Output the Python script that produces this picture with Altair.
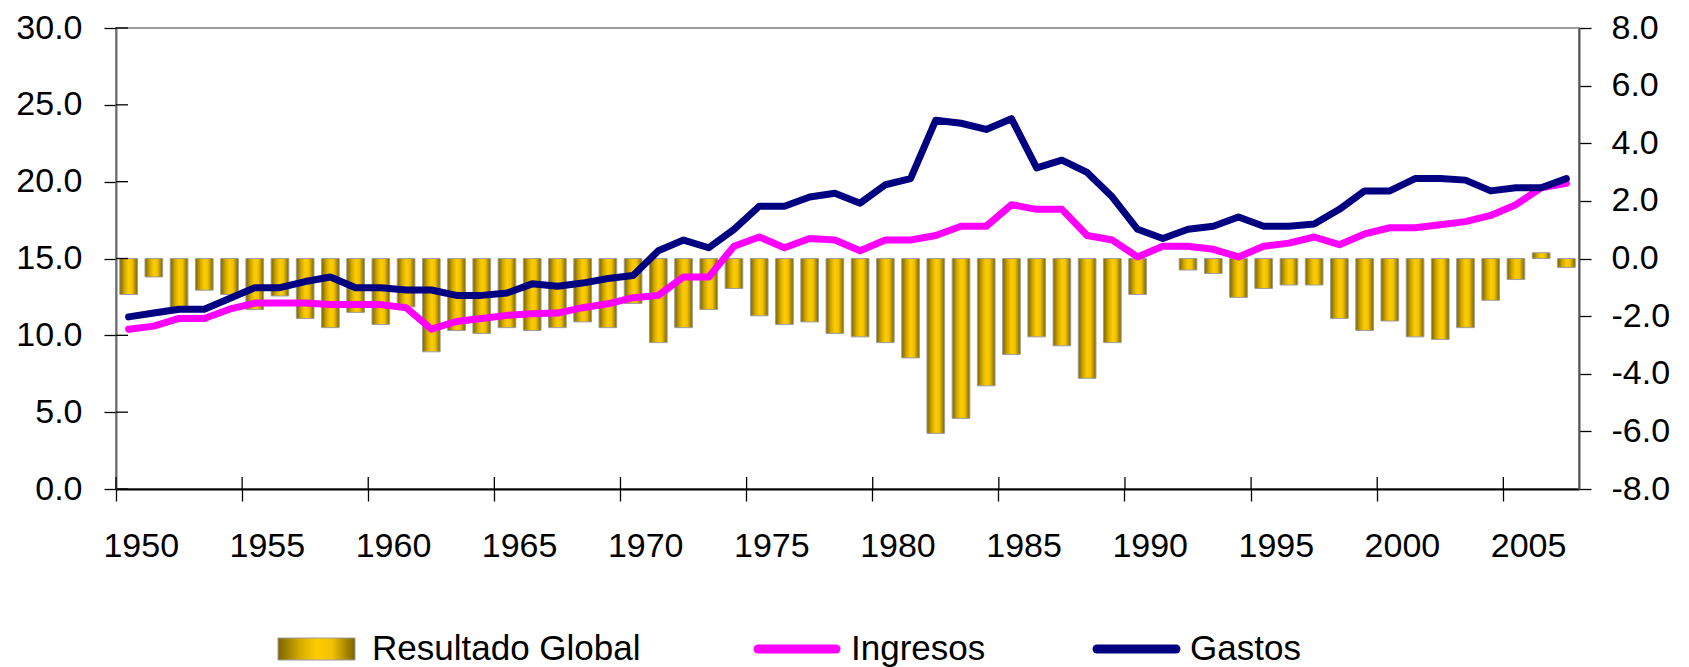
import altair as alt
import pandas as pd

# ---------------- data ----------------
years = list(range(1950, 2008))

resultado = [
    -1.25, -0.64, -1.80, -1.10, -1.25, -1.77, -1.30, -2.08, -2.40, -1.87,
    -2.29, -1.68, -3.24, -2.50, -2.60, -2.40, -2.50, -2.40, -2.20, -2.40,
    -1.56, -2.92, -2.40, -1.77, -1.04, -1.99, -2.29, -2.20, -2.60, -2.72,
    -2.92, -3.45, -6.07, -5.55, -4.42, -3.33, -2.72, -3.03, -4.16, -2.92,
    -1.25, None, -0.40, -0.52, -1.35, -1.04, -0.92, -0.92, -2.08, -2.50,
    -2.17, -2.72, -2.81, -2.40, -1.45, -0.73, 0.20, -0.31,
]

ingresos = [
    10.4, 10.6, 11.1, 11.1, 11.7, 12.1, 12.1, 12.1, 12.0, 12.0,
    12.0, 11.8, 10.4, 10.9, 11.1, 11.3, 11.4, 11.45, 11.8, 12.05,
    12.45, 12.6, 13.8, 13.8, 15.8, 16.4, 15.7, 16.3, 16.2, 15.5,
    16.2, 16.2, 16.5, 17.1, 17.1, 18.5, 18.2, 18.2, 16.5, 16.2,
    15.1, 15.8, 15.8, 15.6, 15.1, 15.8, 16.0, 16.4, 15.9, 16.6,
    17.0, 17.0, 17.2, 17.4, 17.8, 18.5, 19.6, 19.9,
]

gastos = [
    11.2, 11.45, 11.7, 11.7, 12.4, 13.1, 13.1, 13.5, 13.8, 13.1,
    13.1, 12.95, 12.95, 12.6, 12.6, 12.75, 13.35, 13.2, 13.4, 13.7,
    13.9, 15.5, 16.2, 15.7, 16.9, 18.4, 18.4, 19.0, 19.25, 18.6,
    19.8, 20.2, 24.0, 23.8, 23.4, 24.1, 20.9, 21.4, 20.6, 19.0,
    16.9, 16.3, 16.9, 17.1, 17.7, 17.1, 17.1, 17.25, 18.2, 19.4,
    19.4, 20.2, 20.2, 20.1, 19.4, 19.6, 19.6, 20.2,
]

left_ticks = [0, 5, 10, 15, 20, 25, 30]
right_ticks = [-8, -6, -4, -2, 0, 2, 4, 6, 8]
year_ticks = list(range(1950, 2006, 5))

bar_name = "Resultado Global"
series_names = ["Ingresos", "Gastos"]
series_colors = ["#FF00FF", "#000080"]

# ---------------- layout ----------------
W, H = 1463, 461
STEP = W / len(years)
FONT = "Liberation Sans"
LABEL_SIZE = 34

df = pd.DataFrame({"year": years, "Resultado": resultado,
                   "Ingresos": ingresos, "Gastos": gastos})

gold = alt.LinearGradient(
    gradient="linear",
    stops=[
        alt.GradientStop(color="#7A6400", offset=0),
        alt.GradientStop(color="#D4AA00", offset=0.28),
        alt.GradientStop(color="#FFCC00", offset=0.5),
        alt.GradientStop(color="#F2C200", offset=0.7),
        alt.GradientStop(color="#7A6400", offset=1),
    ],
    x1=0, x2=1, y1=0, y2=0,
)

x_axis = alt.Axis(
    values=year_ticks, bandPosition=0, labelOffset=STEP / 2, labelAngle=0,
    labelFont=FONT, labelFontSize=LABEL_SIZE, labelColor="black",
    labelPadding=28, labelOverlap=False, labelBound=False, labelFlush=False,
    tickSize=12, tickColor="black", tickWidth=1.3,
    domainColor="black", domainWidth=2, grid=False, title=None,
)
x_scale = alt.Scale(paddingInner=0, paddingOuter=0)
x_enc = alt.X("year:O", scale=x_scale, axis=x_axis, title=None)

HYPHEN = "replace(format(datum.value, '.1f'), '\u2212', '-')"

bars = alt.Chart(df).mark_bar(
    fill=gold, stroke="#9C9C9C", strokeWidth=1,
    width=alt.RelativeBandSize(0.7),
).encode(
    x=x_enc,
    y=alt.Y("Resultado:Q",
            scale=alt.Scale(domain=[-8, 8], nice=False, zero=False),
            axis=alt.Axis(orient="right", values=right_ticks, labelExpr=HYPHEN,
                          labelFont=FONT, labelFontSize=LABEL_SIZE,
                          labelColor="black", labelPadding=20,
                          tickSize=12, tickColor="black", tickWidth=1.3,
                          domainColor="#555555", domainWidth=2,
                          grid=False, title=None)),
)

lines = alt.Chart(df).transform_fold(
    series_names, as_=["serie", "valor"]
).mark_line(strokeWidth=7, strokeJoin="round", strokeCap="round").encode(
    x=x_enc,
    y=alt.Y("valor:Q",
            scale=alt.Scale(domain=[0, 30], nice=False),
            axis=alt.Axis(orient="left", values=left_ticks, format=".1f",
                          labelFont=FONT, labelFontSize=LABEL_SIZE,
                          labelColor="black", labelPadding=22,
                          tickSize=12, tickColor="black", tickWidth=1.3,
                          domainColor="#6E6E6E", domainWidth=2,
                          grid=False, title=None)),
    stroke=alt.Stroke("serie:N",
                      scale=alt.Scale(domain=series_names, range=series_colors),
                      legend=None),
)

# inner halves of the crossing tick marks
x_inner = alt.Chart(pd.DataFrame({"year": year_ticks})).mark_rule(
    color="black", strokeWidth=1.3
).encode(
    x=alt.X("year:O", bandPosition=0, scale=x_scale, axis=x_axis, title=None),
    y=alt.value(H - 12), y2=alt.value(H),
)

y_inner = alt.Chart(pd.DataFrame({"v": left_ticks})).mark_rule(
    color="black", strokeWidth=1.3
).encode(
    y=alt.Y("v:Q", scale=alt.Scale(domain=[0, 30], nice=False), axis=None),
    x=alt.value(0), x2=alt.value(12),
)

# ---------------- legend ----------------
LEG_Y = 621
LEG_FONT = 35
leg_bar = alt.Chart(pd.DataFrame({"label": [bar_name]})).mark_rect(
    fill=gold, stroke="#9C9C9C", strokeWidth=1
).encode(x=alt.value(162), x2=alt.value(239),
         y=alt.value(LEG_Y - 11), y2=alt.value(LEG_Y + 11))
leg_bar_t = alt.Chart(pd.DataFrame({"label": [bar_name]})).mark_text(
    align="left", baseline="middle", font=FONT, fontSize=LEG_FONT, color="black"
).encode(x=alt.value(256), y=alt.value(LEG_Y), text="label:N")

leg_ing = alt.Chart(pd.DataFrame({"label": [series_names[0]]})).mark_rule(
    strokeWidth=9, strokeCap="round", color=series_colors[0]
).encode(x=alt.value(642), x2=alt.value(720), y=alt.value(LEG_Y))
leg_ing_t = alt.Chart(pd.DataFrame({"label": [series_names[0]]})).mark_text(
    align="left", baseline="middle", font=FONT, fontSize=LEG_FONT, color="black"
).encode(x=alt.value(735), y=alt.value(LEG_Y), text="label:N")

leg_gas = alt.Chart(pd.DataFrame({"label": [series_names[1]]})).mark_rule(
    strokeWidth=9, strokeCap="round", color=series_colors[1]
).encode(x=alt.value(981), x2=alt.value(1060), y=alt.value(LEG_Y))
leg_gas_t = alt.Chart(pd.DataFrame({"label": [series_names[1]]})).mark_text(
    align="left", baseline="middle", font=FONT, fontSize=LEG_FONT, color="black"
).encode(x=alt.value(1074), y=alt.value(LEG_Y), text="label:N")

chart = alt.layer(
    bars, lines, x_inner, y_inner,
    leg_bar, leg_bar_t, leg_ing, leg_ing_t, leg_gas, leg_gas_t,
).resolve_scale(
    y="independent"
).properties(
    width=W, height=H,
    autosize=alt.AutoSizeParams(type="none"),
    padding={"left": 108, "top": 20, "right": 100, "bottom": 178},
    background="white",
).configure_view(
    stroke="#9A9A9A", strokeWidth=2
)

chart.save("out.html", embed_options={"renderer": "svg", "actions": False})
